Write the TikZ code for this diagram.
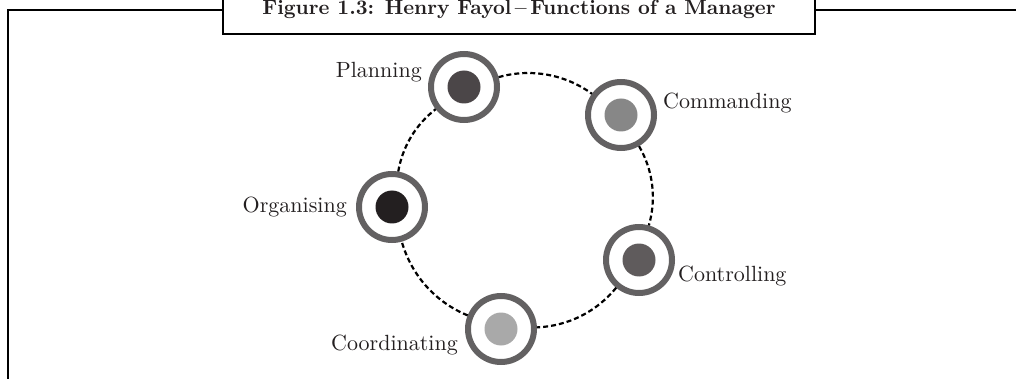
\documentclass[tikz,border=0pt]{standalone}
\usepackage{fontspec}
\setmainfont{lmroman10-regular}[Extension=.otf, BoldFont=lmroman10-bold, ItalicFont=lmroman10-italic]
\definecolor{ringc}{HTML}{636162}
\definecolor{dotP}{HTML}{4B4648}
\definecolor{dotCm}{HTML}{878787}
\definecolor{dotO}{HTML}{231F20}
\definecolor{dotCt}{HTML}{5F5B5C}
\definecolor{dotCd}{HTML}{A9A9A9}
\definecolor{txt}{HTML}{231F20}
\begin{document}
\begin{tikzpicture}[x=1pt,y=-1pt,
  frameline/.style={line width=2.8pt, draw=black},
  fnode/.style={circle, draw=ringc, line width=6pt, fill=white, minimum size=66pt, inner sep=0pt,
    path picture={\fill[#1] (path picture bounding box.center) circle (16.5pt);}},
  lbl/.style={font=\fontsize{22}{26}\selectfont, inner sep=0pt, text=txt},
  conn/.style={draw=black, line width=2.2pt, dash pattern=on 5pt off 3pt, looseness=0.9}]
\useasboundingbox (0,0) rectangle (1016,379);
\clip (0,0) rectangle (1016,379);
% frame
\draw[frameline] (8,390) -- (8,10) -- (223,10);
\draw[frameline] (223,-5) -- (223,34) -- (815,34) -- (815,-5);
\draw[frameline] (815,10) -- (1025,10);
\node[font=\bfseries\fontsize{20.6}{24}\selectfont, inner sep=0pt, anchor=base, text=txt] (title) at (519,14.8)
  {Figure 1.3: Henry Fayol\,–\,Functions of a Manager};
% function nodes
\node[fnode=dotP]  (P)  at (464,87)  {};
\node[fnode=dotCm] (Cm) at (621,115) {};
\node[fnode=dotCt] (Ct) at (639,260) {};
\node[fnode=dotCd] (Cd) at (501,329) {};
\node[fnode=dotO]  (O)  at (392,207) {};
% connectors
\draw[conn] (P)  to[bend left=26] (Cm);
\draw[conn] (Cm) to[bend left=23] (Ct);
\draw[conn] (Ct) to[bend left=24] (Cd);
\draw[conn] (Cd) to[bend left=26] (O);
\draw[conn] (O)  to[bend left=21] (P);
% labels
\node[lbl, anchor=base east] (lP)  at (422,78)  {Planning};
\node[lbl, anchor=base west] (lCm) at (663,109) {Commanding};
\node[lbl, anchor=base east] (lO)  at (347,213) {Organising};
\node[lbl, anchor=base west] (lCt) at (678,281) {Controlling};
\node[lbl, anchor=base east] (lCd) at (458,350) {Coordinating};
\end{tikzpicture}
\end{document}
